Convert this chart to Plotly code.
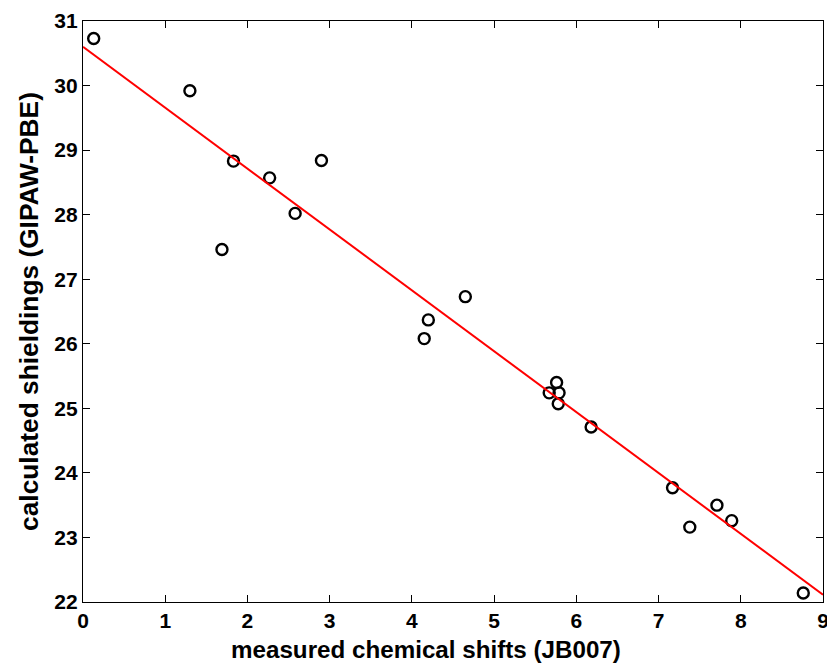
import plotly.graph_objects as go

# Measured chemical shifts vs. calculated shieldings
measured = [0.13, 1.30, 1.69, 1.83, 2.27, 2.58, 2.90, 4.15, 4.20, 4.65,
            5.67, 5.76, 5.79, 5.78, 6.18, 7.17, 7.38, 7.71, 7.89, 8.76]
calculated = [30.73, 29.92, 27.46, 28.83, 28.57, 28.02, 28.84, 26.08, 26.37, 26.73,
              25.24, 25.40, 25.24, 25.07, 24.71, 23.77, 23.16, 23.50, 23.26, 22.14]

# Linear fit: calculated = intercept + slope * measured
fit_intercept = 30.60
fit_slope = -0.943
fit_x = [0, 9]
fit_y = [fit_intercept + fit_slope * x for x in fit_x]

x_ticks = [0, 1, 2, 3, 4, 5, 6, 7, 8, 9]
y_ticks = [22, 23, 24, 25, 26, 27, 28, 29, 30, 31]

x_title = "measured chemical shifts (JB007)"
y_title = "calculated shieldings (GIPAW-PBE)"

font_family = "Liberation Sans Narrow, Liberation Sans, Arial, sans-serif"
title_family = "Liberation Sans, Arial, sans-serif"

fig = go.Figure()
fig.add_trace(go.Scatter(
    x=measured, y=calculated, mode="markers",
    marker=dict(symbol="circle-open", size=11, color="black", line=dict(width=2.4, color="black")),
    showlegend=False, cliponaxis=False,
))
fig.add_trace(go.Scatter(
    x=fit_x, y=fit_y, mode="lines",
    line=dict(color="#ff0000", width=2),
    showlegend=False,
))

axis_common = dict(
    showgrid=False, zeroline=False,
    showline=True, linecolor="black", linewidth=1.2, mirror="ticks",
    ticks="inside", ticklen=7, tickwidth=1.2, tickcolor="black",
    tickfont=dict(family=font_family, size=21, color="black", weight="bold"),
    ticklabeloverflow="allow",
)

fig.update_xaxes(
    range=[0, 9], tickvals=x_ticks, ticktext=[str(v) for v in x_ticks],
    **axis_common,
)
fig.update_yaxes(
    range=[22, 31], tickvals=y_ticks, ticktext=[str(v) for v in y_ticks],
    title=dict(text="<b>" + y_title + "</b>",
               font=dict(family=title_family, size=26.3, color="black"),
               standoff=8),
    **axis_common,
)

# x-axis title placed as an annotation below the tick labels
fig.add_annotation(
    text="<b>" + x_title + "</b>",
    xref="paper", yref="paper", x=0.4635, y=0,
    xanchor="center", yanchor="top", yshift=-32,
    showarrow=False,
    font=dict(family=title_family, size=24.2, color="black"),
)

fig.update_layout(
    width=827, height=666,
    margin=dict(l=83, r=4, t=21, b=64, autoexpand=False),
    plot_bgcolor="white", paper_bgcolor="white",
)

fig.write_html("out.html")
